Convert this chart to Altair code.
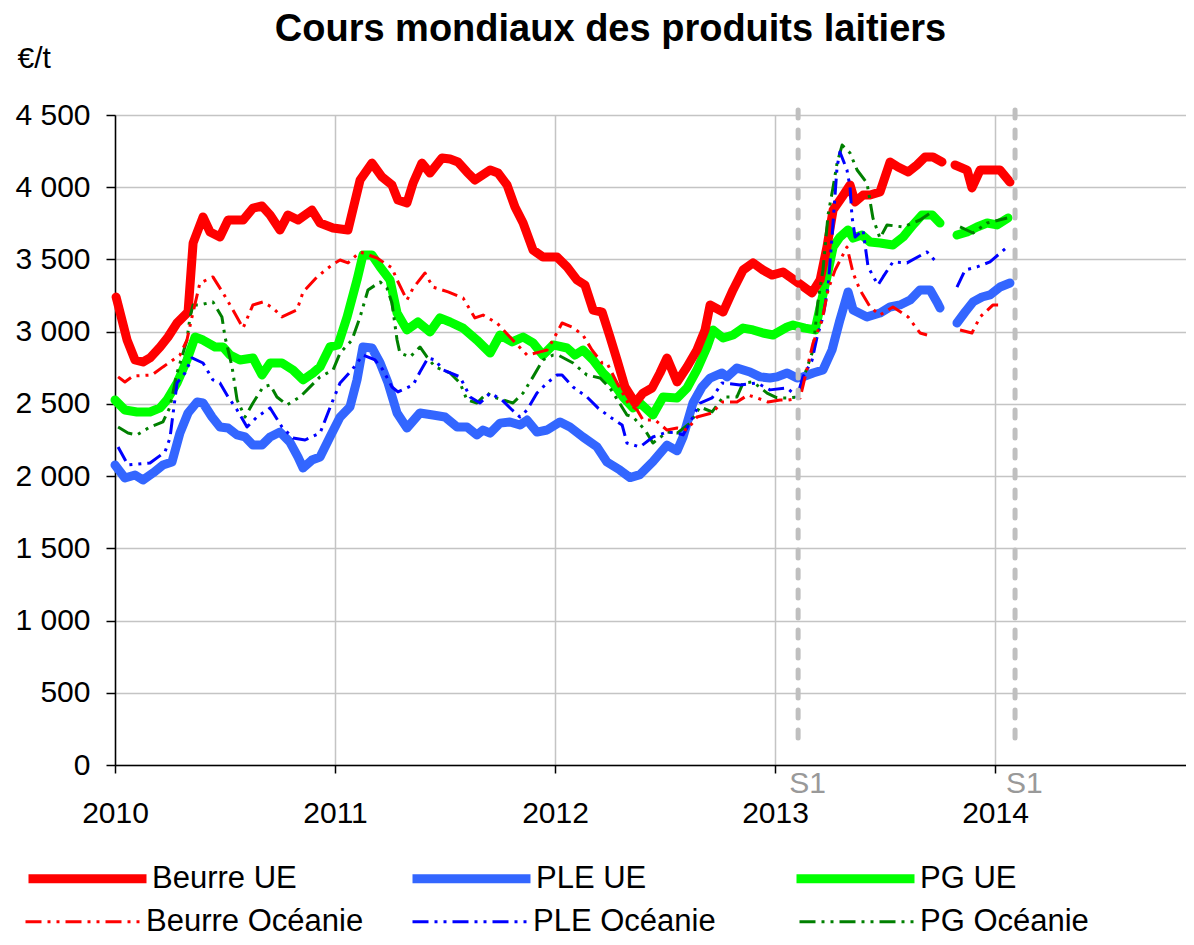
import altair as alt
import pandas as pd

FONT = "Liberation Sans, Arial, Helvetica, sans-serif"
TITLE = "Cours mondiaux des produits laitiers"
UNIT = "€/t"

UE_SERIES = ["Beurre UE", "PLE UE", "PG UE"]
UE_COLORS = ["#FF0000", "#3366FF", "#00FF00"]
OC_SERIES = ["Beurre Océanie", "PLE Océanie", "PG Océanie"]
OC_COLORS = ["#FF0000", "#0000FF", "#008000"]
UE_WIDTH = 9
OC_WIDTH = 3
OC_DASH = [16, 6, 3, 6, 3, 6]

YEARS = [2010, 2011, 2012, 2013, 2014]
Y_TICKS = [0, 500, 1000, 1500, 2000, 2500, 3000, 3500, 4000, 4500]
S1_DATES = [2013.105, 2014.091]

# ---- Beurre UE ----
BEURRE_UE_T = [2010.005, 2010.055, 2010.091, 2010.127, 2010.159, 2010.205, 2010.241, 2010.282, 2010.332, 2010.355,
               2010.400, 2010.432, 2010.477, 2010.514, 2010.582, 2010.627, 2010.668, 2010.705, 2010.750, 2010.786,
               2010.832, 2010.895, 2010.932, 2010.991, 2011.059, 2011.114, 2011.168, 2011.214, 2011.259, 2011.286,
               2011.327, 2011.355, 2011.395, 2011.432, 2011.486, 2011.523, 2011.559, 2011.600, 2011.636, 2011.705,
               2011.741, 2011.782, 2011.818, 2011.855, 2011.900, 2011.945, 2012.009, 2012.055, 2012.100, 2012.136,
               2012.173, 2012.214, 2012.250, 2012.282, 2012.318, 2012.364, 2012.400, 2012.441, 2012.477, 2012.509,
               2012.555, 2012.600, 2012.645, 2012.682, 2012.705, 2012.764, 2012.809, 2012.855, 2012.900, 2012.945,
               2012.986, 2013.036, 2013.100, 2013.168, 2013.205, 2013.236, 2013.264, 2013.305, 2013.341, 2013.364,
               2013.400, 2013.432, 2013.477, 2013.523, 2013.559, 2013.605, 2013.645, 2013.682, 2013.718, 2013.759,
               2013.790, 2013.818, 2013.873, 2013.895, 2013.932, 2013.977, 2014.023, 2014.068]
BEURRE_UE_V = [3240, 2942, 2804, 2790, 2818, 2894, 2963, 3060, 3136, 3614,
               3794, 3690, 3655, 3773, 3773, 3856, 3870, 3808, 3704, 3808,
               3773, 3842, 3752, 3718, 3704, 4050, 4167, 4070, 4015, 3911,
               3891, 4029, 4167, 4098, 4202, 4195, 4175, 4105, 4050, 4119,
               4098, 4015, 3863, 3752, 3565, 3517, 3517, 3448, 3358, 3323,
               3150, 3136, 2963, 2804, 2617, 2506, 2575, 2610, 2714, 2818,
               2652, 2756, 2873, 3012, 3185, 3136, 3289, 3427, 3476, 3427,
               3392, 3413, 3344, 3268, 3358, 3586, 3842, 3932, 4015, 3898,
               3946, 3946, 3967, 4175, 4140, 4105, 4154, 4209, 4209, 4175,
               None, 4154, 4119, 3995, 4119, 4119, 4119, 4036]

# ---- PLE UE ----
PLE_UE_T = [2010.000, 2010.045, 2010.091, 2010.127, 2010.173, 2010.218, 2010.259, 2010.295, 2010.332, 2010.373,
            2010.400, 2010.441, 2010.477, 2010.514, 2010.555, 2010.591, 2010.627, 2010.668, 2010.705, 2010.750,
            2010.795, 2010.832, 2010.855, 2010.895, 2010.932, 2010.977, 2011.023, 2011.068, 2011.100, 2011.127,
            2011.168, 2011.205, 2011.241, 2011.282, 2011.327, 2011.386, 2011.445, 2011.500, 2011.555, 2011.600,
            2011.645, 2011.673, 2011.705, 2011.750, 2011.795, 2011.841, 2011.873, 2011.918, 2011.964, 2012.023,
            2012.068, 2012.127, 2012.191, 2012.236, 2012.295, 2012.341, 2012.386, 2012.445, 2012.509, 2012.555,
            2012.582, 2012.627, 2012.668, 2012.705, 2012.759, 2012.782, 2012.827, 2012.886, 2012.932, 2012.977,
            2013.009, 2013.055, 2013.100, 2013.127, 2013.173, 2013.218, 2013.259, 2013.295, 2013.332, 2013.355,
            2013.418, 2013.477, 2013.523, 2013.568, 2013.614, 2013.659, 2013.705, 2013.736, 2013.750, 2013.790,
            2013.827, 2013.864, 2013.900, 2013.941, 2013.977, 2014.023, 2014.068]
PLE_UE_V = [2077, 1987, 2008, 1973, 2022, 2077, 2098, 2298, 2437, 2513,
            2506, 2409, 2340, 2333, 2285, 2271, 2215, 2215, 2271, 2305,
            2236, 2132, 2056, 2111, 2132, 2271, 2409, 2479, 2666, 2894,
            2887, 2783, 2645, 2437, 2333, 2437, 2423, 2409, 2340, 2340,
            2285, 2319, 2298, 2367, 2375, 2354, 2388, 2305, 2319, 2375,
            2340, 2271, 2202, 2098, 2042, 1990, 2010, 2100, 2215, 2175,
            2271, 2506, 2617, 2679, 2714, 2687, 2749, 2721, 2687, 2679,
            2687, 2714, 2679, 2687, 2714, 2735, 2873, 3081, 3275, 3150,
            3102, 3129, 3171, 3185, 3219, 3289, 3289, 3206, 3164, None,
            3060, 3136, 3206, 3240, 3254, 3309, 3337]

# ---- PG UE ----
PG_UE_T = [2010.000, 2010.045, 2010.100, 2010.159, 2010.205, 2010.236, 2010.282, 2010.327, 2010.364, 2010.400,
           2010.455, 2010.491, 2010.523, 2010.568, 2010.627, 2010.668, 2010.705, 2010.759, 2010.809, 2010.855,
           2010.900, 2010.932, 2010.977, 2011.014, 2011.055, 2011.100, 2011.127, 2011.168, 2011.205, 2011.250,
           2011.282, 2011.327, 2011.377, 2011.432, 2011.477, 2011.523, 2011.582, 2011.645, 2011.705, 2011.750,
           2011.805, 2011.855, 2011.900, 2011.945, 2011.991, 2012.055, 2012.091, 2012.127, 2012.173, 2012.218,
           2012.264, 2012.309, 2012.355, 2012.386, 2012.445, 2012.491, 2012.555, 2012.600, 2012.645, 2012.691,
           2012.718, 2012.764, 2012.809, 2012.855, 2012.900, 2012.945, 2012.991, 2013.055, 2013.082, 2013.136,
           2013.182, 2013.205, 2013.236, 2013.264, 2013.295, 2013.332, 2013.355, 2013.395, 2013.432, 2013.477,
           2013.536, 2013.582, 2013.627, 2013.668, 2013.714, 2013.750, 2013.790, 2013.827, 2013.873, 2013.918,
           2013.964, 2014.009, 2014.059]
PG_UE_V = [2527, 2458, 2444, 2444, 2472, 2527, 2645, 2804, 2963, 2942,
           2894, 2894, 2838, 2804, 2818, 2700, 2783, 2783, 2735, 2666,
           2714, 2756, 2894, 2908, 3102, 3358, 3531, 3531, 3448, 3358,
           3129, 3012, 3067, 2998, 3095, 3067, 3025, 2942, 2852, 2977,
           2929, 2963, 2922, 2838, 2908, 2887, 2838, 2873, 2804, 2714,
           2645, 2548, 2472, 2506, 2423, 2548, 2541, 2610, 2735, 2894,
           3012, 2956, 2977, 3025, 3012, 2991, 2977, 3032, 3046, 3025,
           3012, 3171, 3379, 3586, 3655, 3704, 3648, 3669, 3621, 3614,
           3600, 3655, 3739, 3808, 3808, 3752, None, 3669, 3690, 3725,
           3752, 3739, 3787]

# ---- Beurre Océanie ----
BEURRE_OC_T = [2010.014, 2010.045, 2010.082, 2010.168, 2010.218, 2010.295, 2010.327, 2010.350, 2010.386, 2010.445,
               2010.491, 2010.536, 2010.582, 2010.627, 2010.673, 2010.718, 2010.759, 2010.827, 2010.855, 2010.918,
               2010.986, 2011.023, 2011.059, 2011.114, 2011.191, 2011.259, 2011.282, 2011.327, 2011.355, 2011.409,
               2011.445, 2011.514, 2011.582, 2011.636, 2011.673, 2011.736, 2011.795, 2011.873, 2011.932, 2011.964,
               2011.991, 2012.032, 2012.077, 2012.127, 2012.168, 2012.214, 2012.236, 2012.282, 2012.332, 2012.373,
               2012.400, 2012.455, 2012.509, 2012.555, 2012.600, 2012.645, 2012.714, 2012.759, 2012.827, 2012.877,
               2012.918, 2012.968, 2013.023, 2013.059, 2013.114, 2013.173, 2013.214, 2013.241, 2013.273, 2013.327,
               2013.355, 2013.386, 2013.432, 2013.477, 2013.536, 2013.605, 2013.659, 2013.691, 2013.770, 2013.841,
               2013.895, 2013.932, 2013.991, 2014.014]
BEURRE_OC_V = [2687, 2652, 2693, 2700, 2756, 2838, 2942, 3102, 3337, 3379,
               3268, 3150, 3025, 3185, 3206, 3164, 3102, 3150, 3275, 3379,
               3462, 3496, 3476, 3552, 3510, 3441, 3358, 3219, 3302, 3406,
               3309, 3275, 3233, 3095, 3115, 3060, 2963, 2838, 2860, 2873,
               2942, 3060, 3032, 2977, 2873, 2783, 2783, 2645, 2506, 2458,
               2388, 2388, 2319, 2333, 2319, 2409, 2437, 2513, 2513, 2562,
               2541, 2513, 2527, 2527, 2541, 2922, 3081, 3289, 3427, 3586,
               3406, 3289, 3171, 3115, 3171, 3102, 2991, 2977, None, 3012,
               2991, 3102, 3185, 3185]

# ---- PLE Océanie ----
PLE_OC_T = [2010.014, 2010.059, 2010.159, 2010.227, 2010.250, 2010.259, 2010.282, 2010.318, 2010.350, 2010.400,
            2010.445, 2010.477, 2010.514, 2010.555, 2010.600, 2010.645, 2010.705, 2010.759, 2010.809, 2010.864,
            2010.932, 2010.991, 2011.023, 2011.077, 2011.127, 2011.182, 2011.218, 2011.259, 2011.286, 2011.355,
            2011.386, 2011.423, 2011.455, 2011.491, 2011.568, 2011.614, 2011.659, 2011.705, 2011.759, 2011.805,
            2011.841, 2011.873, 2011.918, 2011.964, 2012.009, 2012.032, 2012.082, 2012.145, 2012.195, 2012.250,
            2012.305, 2012.327, 2012.386, 2012.445, 2012.509, 2012.555, 2012.582, 2012.627, 2012.659, 2012.714,
            2012.759, 2012.841, 2012.918, 2012.977, 2013.055, 2013.100, 2013.127, 2013.168, 2013.191, 2013.218,
            2013.241, 2013.259, 2013.282, 2013.295, 2013.327, 2013.341, 2013.350, 2013.364, 2013.400, 2013.423,
            2013.468, 2013.491, 2013.536, 2013.600, 2013.691, 2013.736, 2013.780, 2013.827, 2013.864, 2013.918,
            2013.977, 2014.055]
PLE_OC_V = [2202, 2077, 2091, 2167, 2264, 2375, 2645, 2714, 2818, 2783,
            2666, 2645, 2548, 2458, 2340, 2409, 2472, 2340, 2264, 2250,
            2298, 2527, 2645, 2735, 2838, 2804, 2735, 2617, 2583, 2631,
            2721, 2818, 2804, 2735, 2687, 2548, 2506, 2575, 2527, 2458,
            2409, 2458, 2575, 2645, 2700, 2700, 2617, 2548, 2472, 2409,
            2354, 2229, 2202, 2271, 2305, 2298, 2285, 2409, 2506, 2541,
            2645, 2631, 2645, 2597, 2610, 2548, 2687, 2800, 2963, 3102,
            3309, 3655, 4140, 4244, 4119, 4001, 3794, 3655, 3704, 3448,
            3323, 3379, 3483, 3476, 3552, 3476, None, 3309, 3427, 3448,
            3483, 3586]

# ---- PG Océanie ----
PG_OC_T = [2010.014, 2010.059, 2010.100, 2010.159, 2010.218, 2010.250, 2010.282, 2010.327, 2010.341, 2010.355,
           2010.386, 2010.445, 2010.486, 2010.500, 2010.532, 2010.555, 2010.591, 2010.627, 2010.673, 2010.705,
           2010.736, 2010.782, 2010.841, 2010.873, 2010.932, 2010.991, 2011.023, 2011.077, 2011.114, 2011.150,
           2011.205, 2011.236, 2011.259, 2011.282, 2011.295, 2011.341, 2011.386, 2011.418, 2011.455, 2011.523,
           2011.568, 2011.600, 2011.645, 2011.691, 2011.718, 2011.764, 2011.809, 2011.855, 2011.900, 2011.945,
           2011.991, 2012.014, 2012.082, 2012.145, 2012.205, 2012.250, 2012.327, 2012.355, 2012.409, 2012.445,
           2012.509, 2012.555, 2012.614, 2012.659, 2012.714, 2012.764, 2012.827, 2012.855, 2012.900, 2012.964,
           2013.009, 2013.055, 2013.100, 2013.173, 2013.195, 2013.218, 2013.241, 2013.264, 2013.282, 2013.305,
           2013.341, 2013.373, 2013.418, 2013.445, 2013.477, 2013.509, 2013.582, 2013.659, 2013.705, 2013.770,
           2013.841, 2013.900, 2013.964, 2014.055]
PG_OC_V = [2340, 2298, 2285, 2340, 2375, 2479, 2714, 2942, 3102, 3185,
           3185, 3206, 3102, 2963, 2756, 2527, 2409, 2506, 2617, 2631,
           2548, 2493, 2548, 2597, 2687, 2735, 2852, 2942, 3102, 3289,
           3344, 3302, 3198, 2942, 2852, 2825, 2894, 2825, 2756, 2714,
           2645, 2527, 2506, 2575, 2548, 2527, 2506, 2575, 2687, 2804,
           2838, 2838, 2783, 2700, 2679, 2610, 2423, 2409, 2319, 2229,
           2305, 2298, 2367, 2479, 2444, 2548, 2548, 2645, 2652, 2575,
           2541, 2541, 2548, 2873, 3206, 3427, 3808, 4001, 4167, 4292,
           4237, 4119, 4029, 3787, 3648, 3739, 3725, 3773, 3821, None,
           3725, 3683, 3752, 3787]

SOURCES = [
    ("PG UE", PG_UE_T, PG_UE_V),
    ("PLE UE", PLE_UE_T, PLE_UE_V),
    ("Beurre UE", BEURRE_UE_T, BEURRE_UE_V),
    ("PG Océanie", PG_OC_T, PG_OC_V),
    ("PLE Océanie", PLE_OC_T, PLE_OC_V),
    ("Beurre Océanie", BEURRE_OC_T, BEURRE_OC_V),
]

rows = []
for name, ts, vs in SOURCES:
    seg = 0
    for t, v in zip(ts, vs):
        if v is None:
            seg += 1
            continue
        rows.append({"serie": name, "date": t, "prix": v, "seg": f"{name}-{seg}",
                     "zone": "UE" if name.endswith("UE") else "OC"})
df = pd.DataFrame(rows)

x_scale = alt.Scale(domain=[2010, 2014.868], nice=False, zero=False)
y_scale = alt.Scale(domain=[0, 4500], nice=False)

x_axis = alt.Axis(values=YEARS, format="d", title=None, grid=True, gridColor="#C4C4C4", gridWidth=1.5,
                  domainColor="black", domainWidth=1.5, tickColor="black", tickWidth=1.5, tickSize=8,
                  labelFontSize=30, labelFont=FONT, labelColor="black", labelPadding=25,
                  labelFlush=False, labelOverlap=False)
y_axis = alt.Axis(values=Y_TICKS, labelExpr="replace(format(datum.value, ','), ',', ' ')",
                  title=UNIT, titleAngle=0, titleAlign="left", titleBaseline="alphabetic",
                  titleX=-98, titleY=-48, titleFontSize=30, titleFontWeight="normal", titleFont=FONT,
                  titleColor="black", grid=True, gridColor="#C4C4C4", gridWidth=1.5,
                  domainColor="black", domainWidth=1.5, tickColor="black", tickWidth=1.5, tickSize=9,
                  labelFontSize=30, labelFont=FONT, labelColor="black", labelPadding=16)

leg_common = dict(title=None, orient="none", legendX=-91, direction="horizontal", columns=3,
                  gridAlign="all", symbolType="stroke", symbolSize=13924,
                  labelFontSize=31, labelFont=FONT, labelColor="black", labelOffset=1, labelLimit=400)
legend_ue = alt.Legend(legendY=700, columnPadding=97, symbolStrokeWidth=UE_WIDTH, **leg_common)
legend_oc = alt.Legend(legendY=746, columnPadding=42, symbolStrokeWidth=OC_WIDTH, symbolDash=OC_DASH,
                       **leg_common)

X_ENC = alt.X("date:Q", scale=x_scale, axis=x_axis)
Y_ENC = alt.Y("prix:Q", scale=y_scale, axis=y_axis)

base = alt.Chart(df)
thick = base.transform_filter(alt.datum.zone == "UE").mark_line(
    strokeWidth=UE_WIDTH, strokeCap="round", strokeJoin="round"
).encode(
    x=X_ENC, y=Y_ENC,
    stroke=alt.Stroke("serie:N", scale=alt.Scale(domain=UE_SERIES, range=UE_COLORS), legend=legend_ue),
    detail="seg:N",
)
thin = base.transform_filter(alt.datum.zone == "OC").mark_line(
    strokeWidth=OC_WIDTH, strokeDash=OC_DASH, strokeJoin="round"
).encode(
    x=X_ENC, y=Y_ENC,
    color=alt.Color("serie:N", scale=alt.Scale(domain=OC_SERIES, range=OC_COLORS), legend=legend_oc),
    detail="seg:N",
)

s1 = pd.DataFrame({"date": S1_DATES, "prix": [4535] * 2, "prix2": [145] * 2, "lab": ["S1", "S1"], "ly": [-195, -195]})
rules = alt.Chart(s1).mark_rule(color="#BFBFBF", strokeWidth=5, strokeDash=[8, 12], strokeCap="round").encode(
    x=X_ENC, y=Y_ENC, y2="prix2:Q",
)
s1_text = alt.Chart(s1).mark_text(align="left", baseline="alphabetic", dx=-9, fontSize=30, font=FONT,
                                  color="#999999").encode(
    x=X_ENC,
    y=alt.Y("ly:Q", scale=y_scale, axis=y_axis),
    text="lab:N",
)

chart = alt.layer(thick, thin, rules, s1_text).properties(
    width=1071, height=650,
    title=alt.TitleParams(TITLE, fontSize=38, font=FONT, fontWeight="bold", color="black",
                          anchor="middle", offset=-6, dx=-40),
    autosize=alt.AutoSizeParams(type="none"),
    padding={"left": 107, "top": 107, "right": 0, "bottom": 172},
).configure_view(strokeWidth=0).configure(background="white")

chart.save("out.html", embed_options={"renderer": "svg", "actions": False})
